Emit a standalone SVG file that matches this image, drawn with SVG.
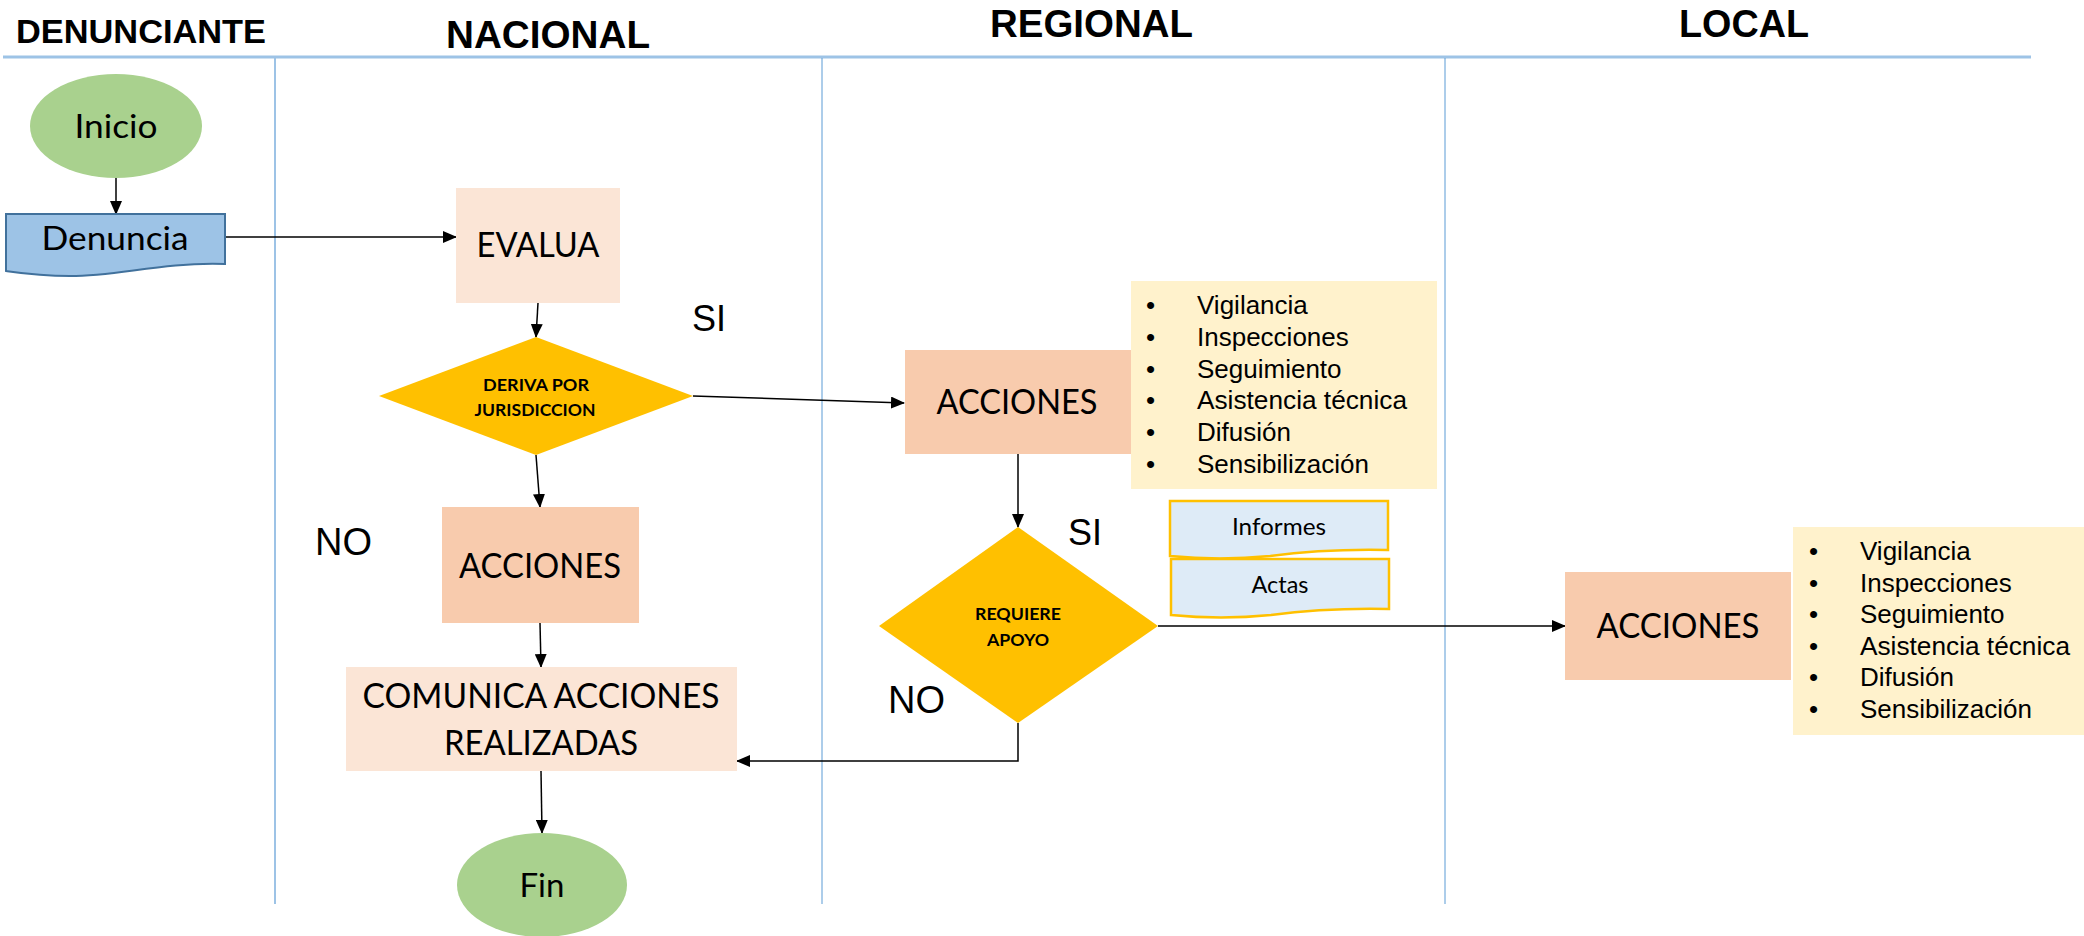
<svg xmlns="http://www.w3.org/2000/svg" width="2084" height="936" viewBox="0 0 2084 936">
<defs>
<marker id="ah" markerUnits="userSpaceOnUse" markerWidth="14" markerHeight="12" refX="13" refY="6" orient="auto">
<path d="M0,0 L14,6 L0,12 Z" fill="#000"/>
</marker>
<style>
.hdr{font-family:"Liberation Sans",Arial,sans-serif;font-weight:bold;fill:#000}
.lbl{font-family:Lato,"Open Sans",sans-serif;fill:#000;text-anchor:middle}
.dec{font-family:Lato,"Open Sans",sans-serif;font-weight:bold;fill:#000;text-anchor:middle;font-size:17px}
.ar{font-family:"Liberation Sans",Arial,sans-serif;fill:#000}
.lst{font-family:"Liberation Sans",Arial,sans-serif;fill:#000;font-size:26px}
.conn{fill:none;stroke:#000;stroke-width:1.5;marker-end:url(#ah)}
.proc{fill:#f8cbad}
.light{fill:#fbe5d6}
.term{fill:#a9d18e}
.diam{fill:#ffc000}
.note{fill:#fff2cc}
.doc2{fill:#deebf7;stroke:#ffc000;stroke-width:2.5}
</style>
</defs>
<g id="lanes">
<line x1="3" y1="57" x2="2031" y2="57" stroke="#9dc3e6" stroke-width="3"/>
<line x1="275" y1="58" x2="275" y2="904" stroke="#9dc3e6" stroke-width="2"/>
<line x1="822" y1="58" x2="822" y2="904" stroke="#5b9bd5" stroke-width="1"/>
<line x1="1445" y1="58" x2="1445" y2="904" stroke="#5b9bd5" stroke-width="1"/>
<text class="hdr" x="16" y="43" font-size="33" textLength="250" lengthAdjust="spacingAndGlyphs">DENUNCIANTE</text>
<text class="hdr" x="446" y="48" font-size="38" textLength="204" lengthAdjust="spacingAndGlyphs">NACIONAL</text>
<text class="hdr" x="990" y="37" font-size="38" textLength="203" lengthAdjust="spacingAndGlyphs">REGIONAL</text>
<text class="hdr" x="1679" y="37" font-size="38" textLength="130" lengthAdjust="spacingAndGlyphs">LOCAL</text>
</g>
<g id="connectors">
<line class="conn" x1="116" y1="178" x2="116" y2="214"/>
<line class="conn" x1="226" y1="237" x2="456" y2="237"/>
<line class="conn" x1="538" y1="303" x2="536" y2="337"/>
<line class="conn" x1="693" y1="396" x2="904" y2="403"/>
<line class="conn" x1="536" y1="455" x2="540" y2="507"/>
<line class="conn" x1="540" y1="623" x2="541" y2="667"/>
<line class="conn" x1="541" y1="771" x2="542" y2="833"/>
<line class="conn" x1="1018" y1="454" x2="1018" y2="527"/>
<line class="conn" x1="1158" y1="626" x2="1565" y2="626" stroke="#333"/>
<polyline class="conn" points="1018,723 1018,761 737,761" stroke-width="2"/>
</g>
<g id="inicio">
<ellipse class="term" cx="116" cy="126" rx="86" ry="52"/>
<text class="lbl" x="116" y="138" font-size="33" textLength="83" lengthAdjust="spacingAndGlyphs">Inicio</text>
</g>
<g id="denuncia">
<path d="M6,214 H225 V264 C160,262 120,276 70,276 C40,276 20,273 6,271 Z" fill="#9dc3e6" stroke="#41719c" stroke-width="2"/>
<text class="lbl" x="115" y="250" font-size="33" textLength="147" lengthAdjust="spacingAndGlyphs">Denuncia</text>
</g>
<g id="evalua">
<rect class="light" x="456" y="188" width="164" height="115"/>
<text class="lbl" x="538" y="257" font-size="34" textLength="123" lengthAdjust="spacingAndGlyphs">EVALUA</text>
</g>
<g id="deriva">
<polygon class="diam" points="536,337 693,396 536,455 379,396"/>
<text class="dec" x="536" y="391" textLength="106" lengthAdjust="spacingAndGlyphs">DERIVA POR</text>
<text class="dec" x="535" y="416" textLength="121" lengthAdjust="spacingAndGlyphs">JURISDICCION</text>
</g>
<g id="si1"><text class="ar" x="692" y="331" font-size="36">SI</text></g>
<g id="no1"><text class="ar" x="315" y="555" font-size="38">NO</text></g>
<g id="acciones-nacional">
<rect class="proc" x="442" y="507" width="197" height="116"/>
<text class="lbl" x="540" y="578" font-size="34" textLength="162" lengthAdjust="spacingAndGlyphs">ACCIONES</text>
</g>
<g id="comunica">
<rect class="light" x="346" y="667" width="391" height="104"/>
<text class="lbl" x="541" y="708" font-size="34" textLength="357" lengthAdjust="spacingAndGlyphs">COMUNICA ACCIONES</text>
<text class="lbl" x="541" y="755" font-size="34" textLength="194" lengthAdjust="spacingAndGlyphs">REALIZADAS</text>
</g>
<g id="fin">
<ellipse class="term" cx="542" cy="885" rx="85" ry="52"/>
<text class="lbl" x="542" y="897" font-size="33" textLength="45" lengthAdjust="spacingAndGlyphs">Fin</text>
</g>
<g id="acciones-regional">
<rect class="proc" x="905" y="350" width="226" height="104"/>
<text class="lbl" x="1017" y="414" font-size="34" textLength="161" lengthAdjust="spacingAndGlyphs">ACCIONES</text>
</g>
<g id="lista-regional">
<rect class="note" x="1131" y="281" width="306" height="208"/>
<g class="lst">
<text x="1146" y="314">•</text><text x="1197" y="314">Vigilancia</text>
<text x="1146" y="346">•</text><text x="1197" y="346">Inspecciones</text>
<text x="1146" y="378">•</text><text x="1197" y="378">Seguimiento</text>
<text x="1146" y="409">•</text><text x="1197" y="409" textLength="210" lengthAdjust="spacingAndGlyphs">Asistencia técnica</text>
<text x="1146" y="441">•</text><text x="1197" y="441">Difusión</text>
<text x="1146" y="473">•</text><text x="1197" y="473">Sensibilización</text>
</g>
</g>
<g id="requiere">
<polygon class="diam" points="1018,527 1158,626 1018,723 879,626"/>
<text class="dec" x="1018" y="620" textLength="86" lengthAdjust="spacingAndGlyphs">REQUIERE</text>
<text class="dec" x="1018" y="646" textLength="62" lengthAdjust="spacingAndGlyphs">APOYO</text>
</g>
<g id="si2"><text class="ar" x="1068" y="545" font-size="36">SI</text></g>
<g id="no2"><text class="ar" x="888" y="713" font-size="38">NO</text></g>
<g id="informes">
<path class="doc2" d="M1170,501 H1388 V550 C1340,549 1300,552 1270,556 C1230,560 1200,559 1170,556 Z"/>
<text class="lbl" x="1279" y="535" font-size="24" textLength="94" lengthAdjust="spacingAndGlyphs">Informes</text>
</g>
<g id="actas">
<path class="doc2" d="M1171,559 H1389 V609 C1341,608 1301,611 1271,615 C1231,619 1201,618 1171,615 Z"/>
<text class="lbl" x="1280" y="593" font-size="24" textLength="57" lengthAdjust="spacingAndGlyphs">Actas</text>
</g>
<g id="acciones-local">
<rect class="proc" x="1565" y="572" width="226" height="108"/>
<text class="lbl" x="1678" y="638" font-size="34" textLength="163" lengthAdjust="spacingAndGlyphs">ACCIONES</text>
</g>
<g id="lista-local">
<rect class="note" x="1793" y="527" width="291" height="208"/>
<g class="lst">
<text x="1809" y="560">•</text><text x="1860" y="560">Vigilancia</text>
<text x="1809" y="592">•</text><text x="1860" y="592">Inspecciones</text>
<text x="1809" y="623">•</text><text x="1860" y="623">Seguimiento</text>
<text x="1809" y="655">•</text><text x="1860" y="655" textLength="210" lengthAdjust="spacingAndGlyphs">Asistencia técnica</text>
<text x="1809" y="686">•</text><text x="1860" y="686">Difusión</text>
<text x="1809" y="718">•</text><text x="1860" y="718">Sensibilización</text>
</g>
</g>
</svg>
